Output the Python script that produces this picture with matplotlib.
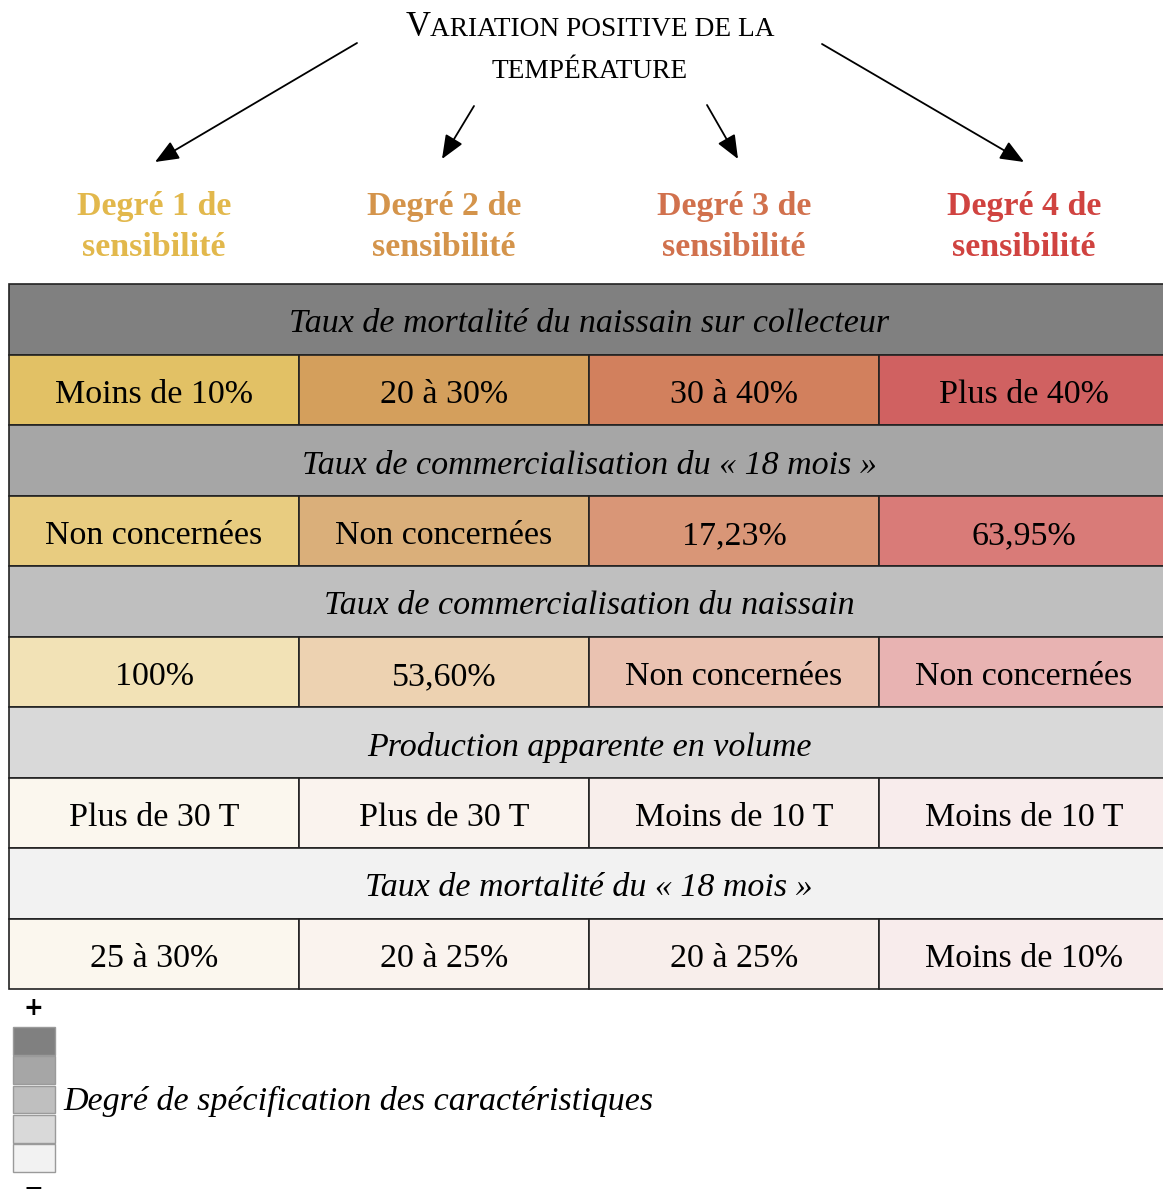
import matplotlib
matplotlib.use("Agg")
import matplotlib.pyplot as plt
from matplotlib.patches import Rectangle

# --- data ---------------------------------------------------------------
degres = ["Degré 1 de\nsensibilité", "Degré 2 de\nsensibilité",
          "Degré 3 de\nsensibilité", "Degré 4 de\nsensibilité"]
degre_colors = ["#E2B84C", "#D4944B", "#D1714D", "#D04340"]

headers = ["Taux de mortalité du naissain sur collecteur",
           "Taux de commercialisation du « 18 mois »",
           "Taux de commercialisation du naissain",
           "Production apparente en volume",
           "Taux de mortalité du « 18 mois »"]
header_colors = ["#808080", "#A6A6A6", "#BFBFBF", "#D9D9D9", "#F2F2F2"]

values = [["Moins de 10%", "20 à 30%", "30 à 40%", "Plus de 40%"],
          ["Non concernées", "Non concernées", "17,23%", "63,95%"],
          ["100%", "53,60%", "Non concernées", "Non concernées"],
          ["Plus de 30 T", "Plus de 30 T", "Moins de 10 T", "Moins de 10 T"],
          ["25 à 30%", "20 à 25%", "20 à 25%", "Moins de 10%"]]
value_colors = [["#E2C165", "#D49F5C", "#D2805D", "#D06161"],
                ["#E8CC80", "#DAAF7A", "#D99677", "#D97B78"],
                ["#F2E2B6", "#EDD2B1", "#EAC2B1", "#E8B3B2"],
                ["#FBF7EE", "#FAF3EE", "#F8EEEB", "#F8ECEC"],
                ["#FBF7EE", "#FAF3EE", "#F8EEEB", "#F8ECEC"]]

legend_label = "Degré de spécification des caractéristiques"

# arrows: (start, end) in pixel space
arrows = [((357, 43), (155, 162)), ((474, 106), (442, 159)),
          ((707, 105), (738, 159)), ((822, 44), (1024, 162))]

# --- layout -------------------------------------------------------------
W, H = 1163, 1189
x0, col_w = 9, 290
y0, row_h = 284, 70.5
serif = ["Liberation Serif", "DejaVu Serif"]
fs = 24.5

fig = plt.figure(figsize=(W / 100, H / 100), dpi=100)
ax = fig.add_axes([0, 0, 1, 1])
ax.set_xlim(0, W)
ax.set_ylim(H, 0)
ax.axis("off")

# title in small caps, built piece by piece
fig.canvas.draw()
renderer = fig.canvas.get_renderer()

def smallcaps(pieces, xc, y):
    texts = [ax.text(0, y, s, fontsize=size, family=serif, va="baseline", ha="left")
             for s, size in pieces]
    widths = [t.get_window_extent(renderer).width for t in texts]
    x = xc - sum(widths) / 2
    for t, w in zip(texts, widths):
        t.set_x(x)
        x += w

smallcaps([("V", 25), ("ARIATION POSITIVE DE LA", 19.7)], 590, 36)
smallcaps([("TEMPÉRATURE", 19.7)], 590, 78)

for (xs, ys), (xe, ye) in arrows:
    ax.annotate("", xy=(xe, ye), xytext=(xs, ys),
                arrowprops=dict(arrowstyle="-|>,head_length=1.45,head_width=0.6",
                                color="black", lw=1.3, shrinkA=0, shrinkB=0))

for i, (lab, c) in enumerate(zip(degres, degre_colors)):
    ax.text(x0 + col_w * (i + 0.5), 227, lab, color=c, fontsize=fs,
            fontweight="bold", family=serif, ha="center", va="center",
            linespacing=1.42)

# table
dy = 5
for r in range(len(headers)):
    yh = y0 + 2 * r * row_h
    ax.add_patch(Rectangle((x0, yh), col_w * 4, row_h, facecolor=header_colors[r],
                           edgecolor="#222222", lw=1.2))
    ax.text(x0 + col_w * 2, yh + row_h / 2 + dy, headers[r], fontsize=fs,
            style="italic", family=serif, ha="center", va="center")
    yv = yh + row_h
    for c in range(4):
        ax.add_patch(Rectangle((x0 + c * col_w, yv), col_w, row_h,
                               facecolor=value_colors[r][c], edgecolor="#222222", lw=1.2))
        ax.text(x0 + col_w * (c + 0.5), yv + row_h / 2 + dy, values[r][c], fontsize=fs,
                family=serif, ha="center", va="center")

# legend scale
ax.text(33, 1008, "+", fontsize=17, fontweight="bold", ha="center", va="center",
        family="DejaVu Sans")
sq_y, sq_h = 1027, 29.3
for i, c in enumerate(header_colors):
    ax.add_patch(Rectangle((13, sq_y + i * sq_h), 42, sq_h - 1.5, facecolor=c,
                           edgecolor="#9A9A9A", lw=1))
ax.text(33, 1176, "\u2212", fontsize=17, fontweight="bold", ha="center", va="top",
        family="DejaVu Sans")
ax.text(63, 1101, legend_label, fontsize=fs, style="italic", family=serif,
        ha="left", va="center")

fig.savefig("out.png", dpi=100)
